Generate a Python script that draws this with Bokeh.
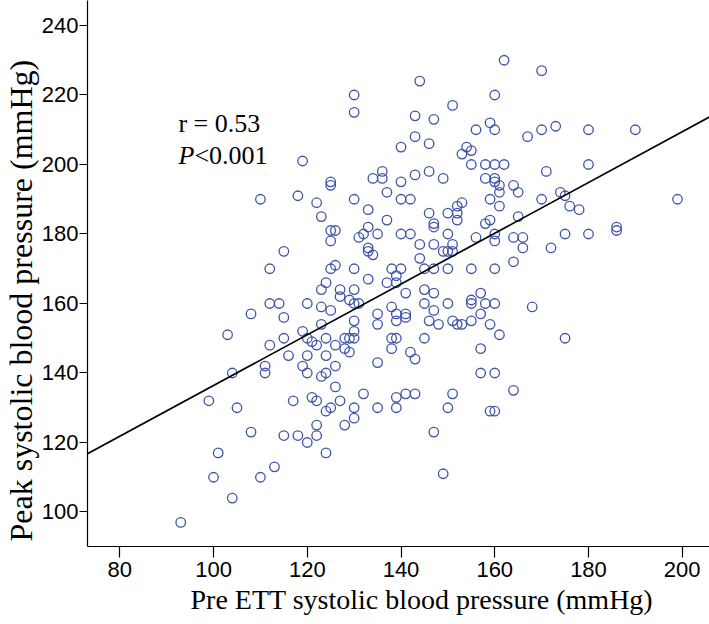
from bokeh.plotting import figure
from bokeh.models import Range1d, FixedTicker, Slope, Label, Title
from bokeh.embed import file_html
from bokeh.resources import INLINE

# Pre ETT systolic blood pressure (mmHg)
pre_sbp = [
    130, 130, 162, 170, 144, 160, 151, 143, 147, 159, 156, 160, 167, 170, 173, 180, 190,
    140, 143, 146, 154, 155, 153, 119, 155, 158, 160, 162, 180,
    136, 134, 136, 125, 125, 140, 137, 110, 118, 122, 130, 140, 142, 143, 146, 149, 171,
    158, 160, 160, 161, 161, 164, 165, 153, 152, 152, 150, 152, 159, 161, 170, 174, 175,
    176, 178, 199, 146, 147, 147, 133, 123, 137, 165, 158, 159,
    125, 126, 125, 133, 132, 131, 135, 140, 142, 150, 156, 160, 160, 164, 166, 166, 172,
    175, 180, 186, 186, 144, 147, 149, 150, 151, 151, 133, 133, 134, 115, 144, 164,
    112, 125, 126, 130, 138, 139, 137, 139, 140, 145, 147, 150, 155, 160,
    133, 124, 123, 127, 130, 127, 129, 130, 131, 112, 114, 120, 123, 125, 108, 115, 123,
    130, 135, 135, 138, 139, 139, 141, 145, 147, 145, 150, 155, 155, 157, 158, 160, 168,
    141, 141, 146, 148, 151, 152, 153, 155, 157, 159, 147,
    103, 112, 115, 119, 120, 121, 122, 124, 126, 128, 129, 130, 130, 128, 129, 116, 120,
    124, 138, 139, 138, 145, 142, 143, 157, 175, 161, 111, 111, 104, 119, 120, 123, 124,
    126, 135, 157, 160,
    126, 132, 117, 121, 122, 127, 124, 125, 130, 130, 128, 135, 139, 139, 105, 99, 108,
    115, 118, 120, 122, 122, 124, 101, 100, 110, 113, 104, 93, 141, 143, 151, 164, 150,
    159, 160, 147, 149,
]

# Peak systolic blood pressure (mmHg)
peak_sbp = [
    220, 215, 230, 227, 224, 220, 217, 214, 213, 212, 210, 210, 208, 210, 211, 210, 210,
    205, 208, 206, 205, 204, 203, 201, 200, 200, 200, 200, 200,
    198, 196, 196, 195, 194, 195, 192, 190, 191, 189, 190, 190, 190, 197, 198, 196, 198,
    196, 196, 195, 194, 192, 194, 192, 189, 188, 186, 186, 184, 190, 188, 190, 192, 191,
    188, 187, 190, 186, 183, 182, 187, 185, 184, 185, 183, 184,
    181, 181, 178, 182, 180, 179, 180, 180, 180, 180, 179, 180, 178, 179, 179, 176, 176,
    180, 180, 182, 181, 177, 177, 175, 175, 175, 177, 176, 175, 174, 175, 173, 172,
    170, 170, 171, 170, 170, 168, 166, 166, 170, 170, 170, 170, 170, 170,
    167, 166, 164, 164, 164, 162, 161, 160, 160, 160, 160, 160, 159, 158, 157, 156, 154,
    155, 157, 154, 159, 157, 155, 163, 164, 163, 160, 160, 161, 160, 163, 160, 160, 159,
    157, 156, 155, 154, 155, 154, 154, 155, 157, 154, 158,
    151, 148, 150, 152, 150, 149, 148, 150, 148, 150, 150, 150, 152, 147, 146, 145, 145,
    145, 150, 150, 147, 150, 146, 144, 147, 150, 151, 142, 140, 140, 142, 140, 139, 140,
    142, 143, 140, 140,
    136, 134, 132, 133, 132, 132, 129, 130, 130, 127, 125, 130, 130, 133, 130, 132, 123,
    122, 122, 120, 125, 122, 117, 117, 110, 110, 113, 104, 97, 134, 134, 134, 135, 130,
    129, 129, 123, 111,
]

# Fitted regression line
fit_intercept = 63.4
fit_slope = 0.73

x_ticks = [80, 100, 120, 140, 160, 180, 200]
y_ticks = [100, 120, 140, 160, 180, 200, 220, 240]

p = figure(
    width=709, height=624,
    x_range=Range1d(73.11, 205.82), y_range=Range1d(90.07, 247.19),
    output_backend="svg", toolbar_location=None,
    min_border_left=87, min_border_right=0, min_border_top=0, min_border_bottom=78,
)
p.outline_line_color = None
p.xgrid.visible = False
p.ygrid.visible = False
p.background_fill_color = "white"
p.border_fill_color = "white"

for ax in (p.xaxis[0], p.yaxis[0]):
    ax.axis_line_color = "black"
    ax.axis_line_width = 1.2
    ax.major_tick_line_color = "black"
    ax.major_tick_line_width = 1.2
    ax.major_tick_in = 0
    ax.minor_tick_line_color = None
    ax.major_label_text_font = "Liberation Sans"
    ax.major_label_text_font_size = "22px"
    ax.major_label_text_color = "black"

p.xaxis[0].major_tick_out = 11
p.yaxis[0].major_tick_out = 8
p.xaxis[0].ticker = FixedTicker(ticks=x_ticks)
p.yaxis[0].ticker = FixedTicker(ticks=y_ticks)
p.xaxis[0].major_label_standoff = 4
p.yaxis[0].major_label_standoff = 1

p.scatter(pre_sbp, peak_sbp, marker="circle", size=9.5, fill_color=None,
          line_color="#3E54A8", line_width=1.3)

p.add_layout(Slope(gradient=fit_slope, y_intercept=fit_intercept,
                   line_color="black", line_width=1.7))

serif = "Liberation Serif"
p.add_layout(Label(x=92.5, y=211.7, text="r = 0.53", text_font=serif,
                   text_font_size="26px", text_color="black", text_baseline="middle"))
p.add_layout(Label(x=92.5, y=202.5, text="P", text_font=serif, text_font_style="italic",
                   text_font_size="26px", text_color="black", text_baseline="middle"))
p.add_layout(Label(x=92.5, y=202.5, x_offset=16, text="<0.001", text_font=serif,
                   text_font_size="26px", text_color="black", text_baseline="middle"))

# axis titles
x_title = Title(text="Pre ETT systolic blood pressure (mmHg)", align="left", offset=103,
                text_font=serif, text_font_size="28px", text_font_style="normal",
                text_color="black", standoff=5)
y_title = Title(text="Peak systolic blood pressure (mmHg)", align="left", offset=5,
                text_font=serif, text_font_size="32px", text_font_style="normal",
                text_color="black", standoff=0)
p.add_layout(x_title, "below")
p.add_layout(y_title, "left")

open("out.html", "w").write(file_html(p, INLINE))
